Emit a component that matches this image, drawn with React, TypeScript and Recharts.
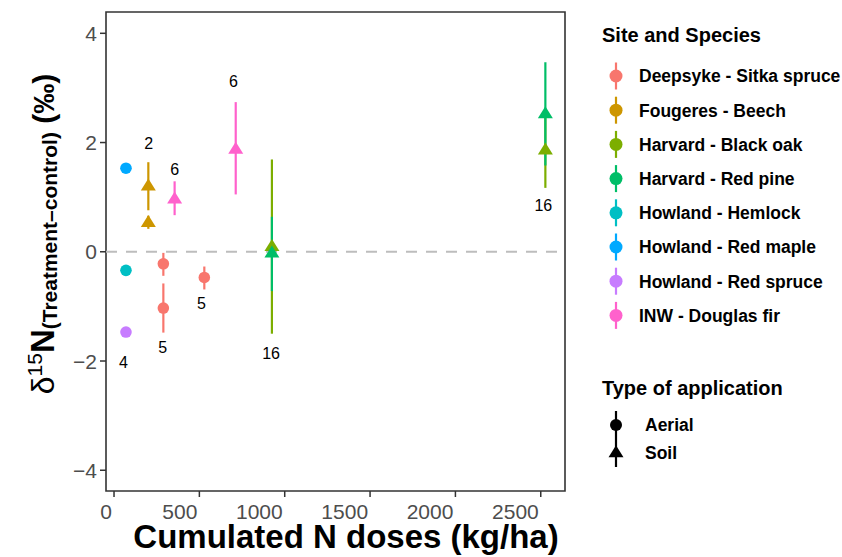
import React from "react";
import {
  ScatterChart,
  Scatter,
  XAxis,
  YAxis,
  ErrorBar,
  ReferenceLine,
  ReferenceArea,
} from "recharts";

const speciesNames = [
  "Deepsyke - Sitka spruce",
  "Fougeres - Beech",
  "Harvard - Black oak",
  "Harvard - Red pine",
  "Howland - Hemlock",
  "Howland - Red maple",
  "Howland - Red spruce",
  "INW - Douglas fir",
];
const speciesColors = [
  "#F8766D",
  "#CD9600",
  "#7CAE00",
  "#00BE67",
  "#00BFC4",
  "#00A9FF",
  "#C77CFF",
  "#FF61CC",
];
const applicationTypes = ["Aerial", "Soil"];

const pointSpecies = [0, 0, 0, 1, 1, 2, 2, 3, 3, 4, 5, 6, 7, 7];
const pointType = [
  "Aerial", "Aerial", "Aerial", "Soil", "Soil", "Soil", "Soil",
  "Soil", "Soil", "Aerial", "Aerial", "Aerial", "Soil", "Soil",
];
const nDose = [289, 289, 529, 201, 201, 925, 2527, 925, 2527, 70, 70, 70, 355, 713];
const delta15N = [-0.22, -1.03, -0.47, 1.2, 0.53, 0.09, 1.86, -0.03, 2.52, -0.34, 1.53, -1.47, 0.96, 1.87];
const deltaLow = [-0.44, -1.48, -0.69, 0.76, 0.42, -1.5, 1.17, -0.72, 1.58, null, null, null, 0.67, 1.05];
const deltaHigh = [-0.02, -0.58, -0.27, 1.64, 0.66, 1.69, 2.6, 0.64, 3.47, null, null, null, 1.29, 2.74];

const nLabelText = ["2", "6", "6", "5", "5", "4", "16", "16"];
const nLabelDose = [203, 355, 699, 285, 512, 55, 920, 2515];
const nLabelDelta = [1.99, 1.51, 3.12, -1.74, -0.95, -2.03, -1.85, 0.86];

const xTicks = [0, 500, 1000, 1500, 2000, 2500];
const yTicks = [-4, -2, 0, 2, 4];
const xDomain = [-47, 2642];
const yDomain = [-4.38, 4.39];

const FONT = "'Liberation Sans', Arial, Helvetica, sans-serif";

const points = nDose.map((x, i) => ({
  x,
  y: delta15N[i],
  species: pointSpecies[i],
  type: pointType[i],
  err:
    deltaLow[i] == null
      ? null
      : [delta15N[i] - (deltaLow[i] as number), (deltaHigh[i] as number) - delta15N[i]],
}));

const labels = nLabelText.map((t, i) => ({ x: nLabelDose[i], y: nLabelDelta[i], text: t }));

const fmt = (v: number) => (v < 0 ? "\u2212" + Math.abs(v) : String(v));

const triangle = (cx: number, cy: number, fill: string) => (
  <polygon
    points={`${cx},${cy - 7.8} ${cx + 7.5},${cy + 4.2} ${cx - 7.5},${cy + 4.2}`}
    fill={fill}
  />
);

const PointShape = (props: any) => {
  const { cx, cy, payload } = props;
  if (cx == null || cy == null) return <g />;
  const color = speciesColors[payload.species];
  if (payload.type === "Soil") return triangle(cx, cy, color);
  return <circle cx={cx} cy={cy} r={5.8} fill={color} />;
};

const LabelShape = (props: any) => {
  const { cx, cy, payload } = props;
  return (
    <text
      x={cx}
      y={cy}
      dy="0.36em"
      textAnchor="middle"
      fontSize={16}
      fontFamily={FONT}
      fill="#000"
    >
      {payload.text}
    </text>
  );
};

const XTick = (props: any) => {
  const { x, y, payload } = props;
  return (
    <text
      x={x - 2}
      y={y}
      dy="0.71em"
      textAnchor="end"
      fontSize={21}
      fontFamily={FONT}
      fill="#4D4D4D"
    >
      {fmt(payload.value)}
    </text>
  );
};

const YTick = (props: any) => {
  const { x, y, payload } = props;
  return (
    <text
      x={x}
      y={y}
      dy="0.36em"
      textAnchor="end"
      fontSize={21}
      fontFamily={FONT}
      fill="#4D4D4D"
    >
      {fmt(payload.value)}
    </text>
  );
};

const EmptyShape = () => <g />;

export default function App() {
  const errorSeries = speciesNames
    .map((_, s) => ({ s, data: points.filter((p) => p.species === s && p.err) }))
    .filter((d) => d.data.length > 0);
  const pointSeries = speciesNames.map((_, s) => ({
    s,
    data: points.filter((p) => p.species === s),
  }));

  const legendRows = speciesNames.map((name, i) => ({ name, color: speciesColors[i], y: 76 + i * 34.2 }));

  return (
    <div
      style={{
        position: "absolute",
        left: 0,
        top: 0,
        width: 842,
        height: 557,
        background: "#fff",
        fontFamily: FONT,
      }}
    >
      <ScatterChart
        width={842}
        height={557}
        margin={{ top: 12, right: 277, bottom: 0, left: 0 }}
      >
        <XAxis
          type="number"
          dataKey="x"
          domain={xDomain}
          allowDataOverflow
          ticks={xTicks}
          axisLine={false}
          tickLine={{ stroke: "#333333", strokeWidth: 1.5 }}
          tickSize={6}
          tickMargin={7}
          height={66}
          interval={0}
          tick={XTick}
        />
        <YAxis
          type="number"
          dataKey="y"
          domain={yDomain}
          allowDataOverflow
          ticks={yTicks}
          axisLine={false}
          tickLine={{ stroke: "#333333", strokeWidth: 1.5 }}
          tickSize={6}
          tickMargin={3}
          width={106}
          interval={0}
          tick={YTick}
        />
        <ReferenceLine y={0} stroke="#BDBDBD" strokeWidth={2} strokeDasharray="11 9" />
        {errorSeries.map(({ s, data }) => (
          <Scatter
            key={"e" + s}
            data={data}
            shape={EmptyShape}
            isAnimationActive={false}
          >
            <ErrorBar
              dataKey="err"
              direction="y"
              width={0}
              stroke={speciesColors[s]}
              strokeWidth={2.2}
              isAnimationActive={false}
            />
          </Scatter>
        ))}
        {pointSeries.map(({ s, data }) => (
          <Scatter
            key={"p" + s}
            name={speciesNames[s]}
            data={data}
            shape={PointShape}
            isAnimationActive={false}
          />
        ))}
        <Scatter data={labels} shape={LabelShape} isAnimationActive={false} />
        <ReferenceArea
          x1={xDomain[0]}
          x2={xDomain[1]}
          y1={yDomain[0]}
          y2={yDomain[1]}
          fill="none"
          fillOpacity={0}
          stroke="#333333"
          strokeWidth={1.6}
          ifOverflow="visible"
        />
      </ScatterChart>
      <svg
        width={842}
        height={557}
        style={{ position: "absolute", left: 0, top: 0, pointerEvents: "none" }}
      >
        {/* x axis title */}
        <text
          x={346}
          y={548}
          textAnchor="middle"
          fontSize={33}
          fontWeight="bold"
          fontFamily={FONT}
          fill="#000"
        >
          Cumulated N doses (kg/ha)
        </text>
        {/* y axis title */}
        <text
          transform="rotate(-90)"
          x={-234}
          y={54}
          textAnchor="middle"
          fontFamily={FONT}
          fill="#000"
        >
          <tspan fontSize={32}>δ</tspan>
          <tspan fontSize={21} dy={-12}>15</tspan>
          <tspan fontSize={33} fontWeight="bold" dy={12}>N</tspan>
          <tspan fontSize={21} fontWeight="bold" dy={3}>(Treatment–control)</tspan>
          <tspan fontSize={30} fontWeight="bold" dy={-3}> (‰)</tspan>
        </text>
        {/* legend: site and species */}
        <text x={602} y={42} fontSize={20} fontWeight="bold" fontFamily={FONT} fill="#000">
          Site and Species
        </text>
        {legendRows.map((r) => (
          <g key={r.name}>
            <line x1={616} x2={616} y1={r.y - 13.5} y2={r.y + 13.5} stroke={r.color} strokeWidth={2.2} />
            <circle cx={616} cy={r.y} r={6.5} fill={r.color} />
            <text
              x={639}
              y={r.y}
              dy="0.36em"
              fontSize={17.5}
              fontWeight="bold"
              fontFamily={FONT}
              fill="#000"
            >
              {r.name}
            </text>
          </g>
        ))}
        {/* legend: type of application */}
        <text x={602} y={395} fontSize={20} fontWeight="bold" fontFamily={FONT} fill="#000">
          Type of application
        </text>
        {applicationTypes.map((t, i) => {
          const y = 425 + i * 28;
          return (
            <g key={t}>
              <line x1={616} x2={616} y1={y - 14} y2={y + 14} stroke="#000" strokeWidth={2.2} />
              {t === "Soil" ? triangle(616, y, "#000") : <circle cx={616} cy={y} r={6} fill="#000" />}
              <text
                x={645}
                y={y}
                dy="0.36em"
                fontSize={17.5}
                fontWeight="bold"
                fontFamily={FONT}
                fill="#000"
              >
                {t}
              </text>
            </g>
          );
        })}
      </svg>
    </div>
  );
}
